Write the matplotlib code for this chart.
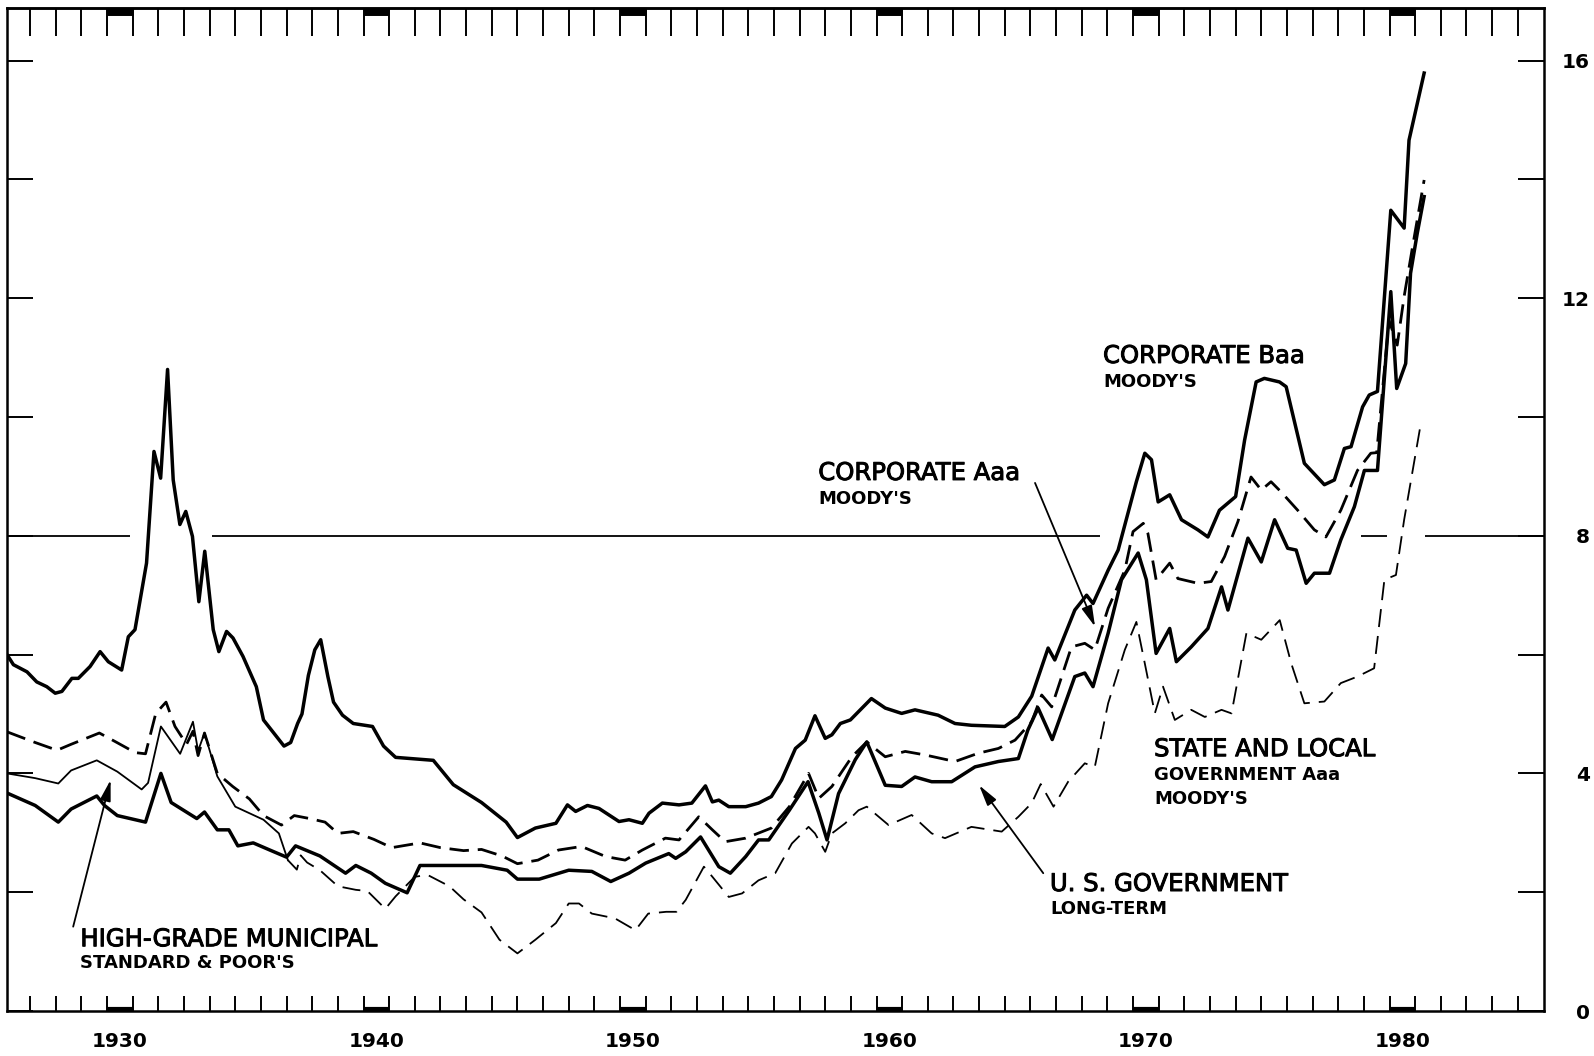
import matplotlib
matplotlib.use("Agg")
import matplotlib.pyplot as plt
import matplotlib.patheffects as pe
import numpy as np

plt.rcParams['font.family'] = ['DejaVu Sans']

# ---------------- data (percent per annum) ----------------
baa_years = [1926.07, 1926.35, 1926.88, 1927.26, 1927.65, 1927.98, 1928.24, 1928.63, 1928.88,
             1929.34, 1929.73, 1930.05, 1930.57, 1930.83, 1931.09, 1931.54, 1931.83, 1932.09,
             1932.36, 1932.58, 1932.84, 1933.07, 1933.33, 1933.58, 1933.81, 1934.14, 1934.36,
             1934.66, 1934.91, 1935.30, 1935.82, 1936.10, 1936.90, 1937.16, 1937.43, 1937.60,
             1937.85, 1938.10, 1938.33, 1938.61, 1938.83, 1939.18, 1939.60, 1940.35, 1940.78,
             1941.25, 1942.72, 1943.50, 1944.60, 1945.56, 1946.00, 1946.70, 1947.50, 1947.95,
             1948.27, 1948.73, 1949.18, 1949.96, 1950.35, 1950.87, 1951.13, 1951.65, 1952.30,
             1952.80, 1953.33, 1953.60, 1953.85, 1954.24, 1954.90, 1955.40, 1955.90, 1956.30,
             1956.84, 1957.22, 1957.60, 1958.00, 1958.26, 1958.59, 1958.98, 1959.80, 1960.34,
             1960.98, 1961.50, 1962.40, 1963.06, 1963.70, 1965.00, 1965.53, 1966.05, 1966.69,
             1966.95, 1967.73, 1968.19, 1968.44, 1969.03, 1969.42, 1970.13, 1970.46, 1970.72,
             1970.98, 1971.43, 1971.89, 1972.53, 1972.92, 1973.37, 1974.00, 1974.35, 1974.80,
             1975.12, 1975.71, 1975.97, 1976.68, 1977.46, 1977.85, 1978.24, 1978.50, 1978.95,
             1979.21, 1979.53, 1980.05, 1980.57, 1980.76, 1981.35]
baa_yield = [6.02, 5.83, 5.71, 5.54, 5.46, 5.35, 5.38, 5.60, 5.60,
             5.80, 6.05, 5.88, 5.74, 6.30, 6.42, 7.54, 9.42, 8.97,
             10.80, 8.94, 8.19, 8.41, 7.99, 6.89, 7.74, 6.42, 6.05,
             6.39, 6.28, 5.97, 5.46, 4.90, 4.46, 4.52, 4.84, 5.00,
             5.65, 6.08, 6.25, 5.63, 5.20, 4.98, 4.84, 4.79, 4.46,
             4.27, 4.22, 3.81, 3.51, 3.18, 2.92, 3.08, 3.16, 3.47,
             3.36, 3.46, 3.41, 3.19, 3.22, 3.16, 3.33, 3.50, 3.47,
             3.50, 3.79, 3.52, 3.55, 3.44, 3.44, 3.50, 3.61, 3.89,
             4.42, 4.56, 4.97, 4.59, 4.65, 4.84, 4.90, 5.26, 5.10,
             5.01, 5.07, 4.98, 4.84, 4.81, 4.79, 4.95, 5.30, 6.11,
             5.91, 6.75, 7.00, 6.86, 7.42, 7.76, 8.91, 9.39, 9.28,
             8.57, 8.69, 8.27, 8.10, 7.98, 8.43, 8.66, 9.61, 10.59,
             10.65, 10.59, 10.51, 9.22, 8.86, 8.94, 9.47, 9.50, 10.17,
             10.37, 10.43, 13.48, 13.18, 14.66, 15.79]

aaa_years = [1926.10, 1927.20, 1928.05, 1928.60, 1929.70, 1930.30, 1931.10, 1931.50, 1931.90,
             1932.30, 1932.65, 1933.10, 1933.35, 1933.55, 1933.80, 1934.30, 1934.90, 1935.55,
             1936.10, 1936.80, 1937.30, 1937.90, 1938.50, 1939.00, 1939.60, 1940.40, 1941.10,
             1942.20, 1943.00, 1943.90, 1944.60, 1945.40, 1946.00, 1946.80, 1947.60, 1948.50,
             1949.44, 1950.20, 1950.87, 1951.77, 1952.30, 1953.07, 1953.60, 1954.10, 1954.90,
             1955.90, 1956.60, 1957.35, 1957.75, 1958.26, 1959.04, 1959.62, 1960.34, 1961.12,
             1961.90, 1963.06, 1963.97, 1964.75, 1965.40, 1966.05, 1966.44, 1966.83, 1967.60,
             1968.12, 1968.51, 1969.03, 1969.68, 1970.00, 1970.40, 1970.58, 1970.90, 1971.43,
             1971.75, 1972.53, 1973.05, 1973.57, 1974.09, 1974.60, 1975.00, 1975.38, 1975.77,
             1976.42, 1977.07, 1977.52, 1978.10, 1978.75, 1979.27, 1979.50, 1979.98, 1980.30,
             1980.57, 1980.90, 1981.35]
aaa_yield = [4.70, 4.52, 4.39, 4.49, 4.68, 4.54, 4.35, 4.33, 5.01,
             5.20, 4.79, 4.49, 4.71, 4.30, 4.68, 4.00, 3.78, 3.57,
             3.29, 3.13, 3.29, 3.24, 3.18, 2.99, 3.02, 2.89, 2.75,
             2.83, 2.75, 2.70, 2.72, 2.61, 2.48, 2.54, 2.71, 2.77,
             2.60, 2.54, 2.71, 2.91, 2.88, 3.27, 3.05, 2.85, 2.91,
             3.08, 3.44, 4.00, 3.58, 3.78, 4.28, 4.53, 4.28, 4.37,
             4.31, 4.20, 4.34, 4.42, 4.56, 4.87, 5.32, 5.12, 6.13,
             6.19, 6.08, 6.78, 7.42, 8.07, 8.21, 8.04, 7.26, 7.54,
             7.28, 7.20, 7.23, 7.65, 8.24, 8.99, 8.77, 8.91, 8.74,
             8.43, 8.10, 7.98, 8.43, 9.10, 9.39, 9.40, 11.63, 11.21,
             12.03, 12.87, 13.99]

muni_years = [1926.10, 1927.20, 1928.10, 1928.60, 1929.60, 1930.40, 1931.35, 1931.60, 1932.10,
              1932.85, 1933.35, 1933.55, 1933.80, 1934.30, 1935.00, 1936.10, 1936.70, 1937.05]
muni_yield = [4.00, 3.92, 3.83, 4.05, 4.22, 4.03, 3.73, 3.84, 4.79,
              4.33, 4.87, 4.38, 4.68, 3.95, 3.44, 3.22, 2.99, 2.54]

sl_years = [1937.05, 1937.40, 1937.55, 1937.80, 1938.30, 1939.00, 1939.70, 1940.15, 1940.85,
            1941.25, 1942.00, 1942.50, 1943.35, 1943.90, 1944.60, 1945.30, 1946.00, 1946.70,
            1947.50, 1948.00, 1948.40, 1948.90, 1949.80, 1950.60, 1951.10, 1951.80, 1952.20,
            1952.56, 1953.27, 1953.60, 1954.24, 1954.76, 1955.40, 1956.05, 1956.70, 1957.35,
            1957.60, 1958.00, 1958.26, 1958.78, 1959.30, 1959.62, 1960.47, 1961.37, 1962.15,
            1962.67, 1963.70, 1964.88, 1965.53, 1966.05, 1966.40, 1966.90, 1967.47, 1968.12,
            1968.51, 1969.03, 1969.68, 1970.13, 1970.46, 1970.85, 1971.17, 1971.63, 1972.27,
            1972.80, 1973.45, 1973.84, 1974.42, 1975.00, 1975.72, 1976.17, 1976.68, 1977.46,
            1978.10, 1978.75, 1979.40, 1979.80, 1980.25, 1980.57, 1981.20]
sl_yield = [2.54, 2.38, 2.62, 2.50, 2.37, 2.10, 2.04, 2.02, 1.72,
            1.93, 2.26, 2.29, 2.10, 1.88, 1.66, 1.20, 0.97, 1.20,
            1.48, 1.81, 1.81, 1.64, 1.56, 1.36, 1.64, 1.67, 1.67,
            1.87, 2.43, 2.26, 1.92, 1.98, 2.20, 2.32, 2.82, 3.10,
            2.99, 2.68, 2.99, 3.16, 3.38, 3.44, 3.13, 3.30, 2.99,
            2.91, 3.10, 3.02, 3.27, 3.50, 3.82, 3.44, 3.86, 4.17,
            4.11, 5.18, 6.08, 6.55, 5.85, 5.01, 5.46, 4.90, 5.07,
            4.95, 5.07, 5.01, 6.36, 6.25, 6.58, 5.85, 5.18, 5.21,
            5.52, 5.63, 5.77, 7.26, 7.34, 8.27, 9.84]

usg_years = [1926.10, 1927.20, 1928.10, 1928.60, 1929.60, 1929.90, 1930.40, 1931.50, 1932.10,
             1932.50, 1933.50, 1933.80, 1934.30, 1934.75, 1935.10, 1935.70, 1936.40, 1937.00,
             1937.35, 1938.30, 1939.30, 1939.70, 1940.30, 1940.85, 1941.70, 1942.20, 1944.60,
             1945.60, 1946.00, 1946.85, 1948.00, 1948.90, 1949.64, 1950.35, 1951.00, 1951.90,
             1952.17, 1952.56, 1953.14, 1953.85, 1954.30, 1954.90, 1955.40, 1955.80, 1956.60,
             1957.33, 1957.75, 1958.07, 1958.52, 1959.17, 1959.62, 1960.34, 1960.98, 1961.50,
             1962.15, 1962.93, 1963.84, 1964.75, 1965.53, 1965.90, 1966.30, 1966.85, 1967.73,
             1968.12, 1968.44, 1969.03, 1969.55, 1970.20, 1970.52, 1970.90, 1971.43, 1971.69,
             1972.27, 1972.92, 1973.45, 1973.70, 1974.48, 1975.00, 1975.52, 1976.03, 1976.36,
             1976.75, 1977.07, 1977.66, 1978.10, 1978.63, 1979.02, 1979.53, 1980.05, 1980.28,
             1980.63, 1980.82, 1981.08, 1981.35]
usg_yield = [3.67, 3.46, 3.18, 3.40, 3.62, 3.46, 3.29, 3.18, 4.00,
             3.51, 3.24, 3.35, 3.05, 3.05, 2.78, 2.83, 2.70, 2.59,
             2.78, 2.61, 2.32, 2.45, 2.32, 2.15, 1.99, 2.45, 2.45,
             2.37, 2.22, 2.22, 2.37, 2.35, 2.18, 2.32, 2.49, 2.65,
             2.57, 2.68, 2.93, 2.43, 2.32, 2.60, 2.88, 2.88, 3.38,
             3.86, 3.33, 2.88, 3.66, 4.23, 4.53, 3.80, 3.78, 3.94,
             3.86, 3.86, 4.11, 4.20, 4.25, 4.73, 5.10, 4.57, 5.63,
             5.69, 5.46, 6.36, 7.26, 7.71, 7.26, 6.02, 6.44, 5.88,
             6.13, 6.44, 7.14, 6.75, 7.96, 7.56, 8.27, 7.79, 7.76,
             7.20, 7.37, 7.37, 7.93, 8.49, 9.10, 9.10, 12.11, 10.48,
             10.90, 12.42, 13.09, 13.71]

decade_labels = [1930, 1940, 1950, 1960, 1970, 1980]
year_ticks = list(range(1927, 1986))
yield_ticks = [0, 2, 4, 6, 8, 10, 12, 14, 16]
yield_labels = ['0', '', '4', '', '8', '', '12', '', '16']

# ---------------- figure ----------------
fig = plt.figure(figsize=(15.94, 10.56), dpi=100)
ax = fig.add_axes([0.00439, 0.04261, 0.9642, 0.9498])
ax.set_xlim(1926.10, 1986.02)
ax.set_ylim(0, 16.885)

for sp in ax.spines.values():
    sp.set_linewidth(1.8)

# reference line at 8 percent (broken where the curves cross)
seg_start = [1926.1, 1934.1, 1978.9, 1981.4]
seg_end = [1930.9, 1968.7, 1979.9, 1986.02]
ax.hlines([8] * len(seg_start), seg_start, seg_end, color='black', lw=1.3)

ax.plot(baa_years, baa_yield, color='black', lw=2.5, solid_joinstyle='round')
ax.plot(aaa_years, aaa_yield, color='black', lw=2.0, dashes=(7, 3.2))
ax.plot(muni_years, muni_yield, color='black', lw=1.3)
ax.plot(sl_years, sl_yield, color='black', lw=1.3, dashes=(10, 5))
ax.plot(usg_years, usg_yield, color='black', lw=2.5, solid_joinstyle='round')

# ---------------- axes ticks ----------------
ax.set_xticks(year_ticks)
ax.set_xticklabels([])
ax.set_xticks([d + 0.5 for d in decade_labels], minor=True)
ax.set_xticklabels([str(d) for d in decade_labels], minor=True,
                   fontsize=14.5, fontweight='bold')
ax.tick_params(axis='x', which='major', direction='in', length=10.5, width=1.4,
               bottom=True, top=False)
ax.tick_params(axis='x', which='minor', length=0, pad=15, bottom=True, top=False)

top = ax.secondary_xaxis('top')
top.set_xticks(year_ticks)
top.set_xticklabels([])
top.tick_params(direction='in', length=20, width=1.4)
top.spines['top'].set_linewidth(1.8)

ax.set_yticks(yield_ticks)
ax.set_yticklabels(yield_labels, fontsize=14.5, fontweight='bold')
ax.tick_params(axis='y', direction='in', length=19, width=1.4, left=True, right=True,
               labelleft=False, labelright=True, pad=33)
for lbl in ax.get_yticklabels():
    lbl.set_horizontalalignment('right')

# decade marker blocks on top and bottom frame
xt = ax.get_xaxis_transform()
ax.hlines([0.9965] * len(decade_labels), decade_labels, [d + 1 for d in decade_labels],
          transform=xt, color='black', lw=5)
ax.hlines([0.002] * len(decade_labels), decade_labels, [d + 1 for d in decade_labels],
          transform=xt, color='black', lw=3)

# ---------------- labels ----------------
thick = [pe.withStroke(linewidth=0.7, foreground='black')]
big = dict(fontsize=17.5, color='black', va='baseline', ha='left', path_effects=thick)
small = dict(fontsize=13, fontweight='bold', color='black', va='baseline', ha='left')

ax.text(1968.83, 10.91, 'CORPORATE Baa', **big)
ax.text(1968.83, 10.51, "MOODY'S", **small)

ax.text(1957.73, 8.94, 'CORPORATE Aaa', **big)
ax.text(1957.73, 8.54, "MOODY'S", **small)

ax.text(1970.82, 4.29, 'STATE AND LOCAL', **big)
ax.text(1970.82, 3.89, 'GOVERNMENT Aaa', **small)
ax.text(1970.82, 3.48, "MOODY'S", **small)

ax.text(1966.76, 2.02, 'U. S. GOVERNMENT', **big)
ax.text(1966.76, 1.63, 'LONG-TERM', **small)

ax.text(1928.96, 1.09, 'HIGH-GRADE MUNICIPAL', **big)
ax.text(1928.96, 0.72, "STANDARD & POOR'S", **small)

arrow = dict(arrowstyle='-|>,head_length=0.7,head_width=0.18', color='black', lw=1.3,
             mutation_scale=18, shrinkA=0, shrinkB=0)
ax.annotate('', xy=(1968.52, 6.47), xytext=(1966.18, 8.89), arrowprops=arrow)
ax.annotate('', xy=(1964.0, 3.80), xytext=(1966.5, 2.32), arrowprops=arrow)
ax.annotate('', xy=(1930.14, 3.89), xytext=(1928.68, 1.42), arrowprops=arrow)

fig.savefig('out.png', dpi=100)
